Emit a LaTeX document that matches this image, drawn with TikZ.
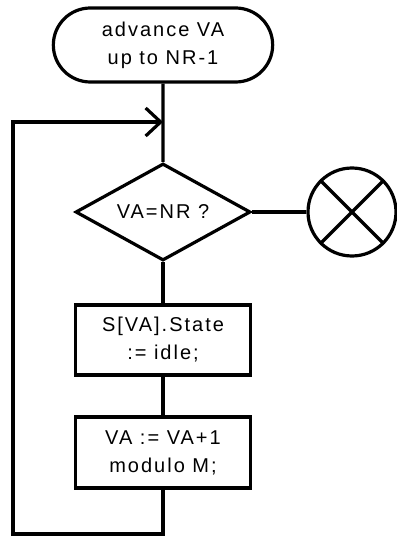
\documentclass[tikz,border=0pt]{standalone}
\usepackage{fontspec}
\setmainfont{Liberation Sans}[LetterSpace=10]
\usetikzlibrary{arrows.meta,positioning,shapes.geometric,shapes.misc}

\begin{document}
\begin{tikzpicture}[x=1pt, y=-1pt, line width=3.2pt,
  every node/.style={font=\fontsize{20}{28}\selectfont},
  term/.style={draw, rounded rectangle, minimum width=226pt, minimum height=74pt, align=center},
  box/.style={draw, rectangle, minimum width=175pt, minimum height=#1, align=center},
  decide/.style={draw, diamond, aspect=1.8, minimum width=175pt, minimum height=97pt, inner sep=0pt},
  stop/.style={draw, circle, minimum size=88pt, inner sep=0pt},
  arr/.style={-{Straight Barb[length=15pt, width=28pt]}}]
\useasboundingbox (0,0) rectangle (396,537);
\node[term] (start) at (163,45) {advance VA\\up to NR-1};
\node[decide] (test) at (163,212) {VA=NR ?};
\node[stop] (halt) at (352,212) {};
\node[box=70pt] (clear) at (163,340) {S[VA].State\\:= idle;};
\node[box=71pt] (incr) at (163,452.5) {VA := VA+1\\modulo M;};
\coordinate (merge) at (163,122);
\coordinate (corner) at (13,534);
\draw (start) -- (test);
\draw (test) -- (halt);
\draw (test) -- (clear);
\draw (clear) -- (incr);
\draw[arr] (incr.south) |- (corner) |- (merge);
\draw (halt.45) -- (halt.225);
\draw (halt.135) -- (halt.315);
\end{tikzpicture}
\end{document}
